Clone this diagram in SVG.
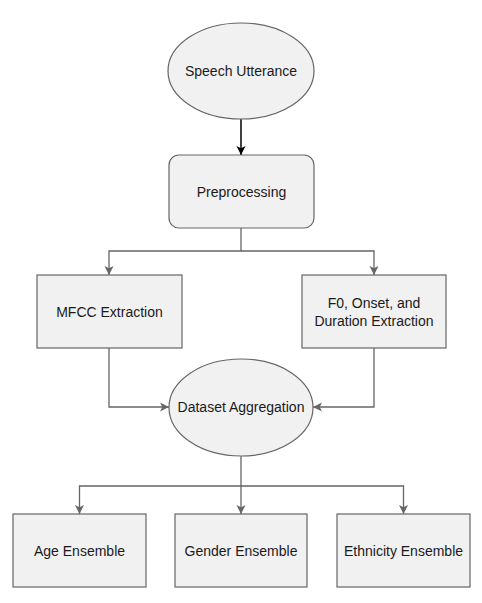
<svg xmlns="http://www.w3.org/2000/svg" width="482" height="603" viewBox="0 0 482 603">
<style>
.n{fill:#f1f1f1;stroke:#666666;stroke-width:1.2}
.t{font-family:"Liberation Sans",Arial,sans-serif;font-size:14px;fill:#1a1a1a;text-anchor:middle;dominant-baseline:central}
.c{fill:none;stroke:#666666;stroke-width:1.3}
.k{fill:none;stroke:#000000;stroke-width:1.5}
</style>
<defs>
<marker id="ag" markerWidth="10" markerHeight="10" viewBox="0 0 10 10" refX="9" refY="5" orient="auto" markerUnits="userSpaceOnUse">
<path d="M0,0.5 L9,5 L0,9.5 L2.3,5 Z" fill="#666666"/>
</marker>
<marker id="ak" markerWidth="10" markerHeight="10" viewBox="0 0 10 10" refX="9" refY="5" orient="auto" markerUnits="userSpaceOnUse">
<path d="M0,0.5 L9,5 L0,9.5 L2.3,5 Z" fill="#000000"/>
</marker>
</defs>
<rect width="482" height="603" fill="#ffffff"/>
<g id="connectors">
<path class="k" d="M241,119 V155" marker-end="url(#ak)"/>
<path class="c" d="M241,228 V251 H109 V275" marker-end="url(#ag)"/>
<path class="c" d="M241,251 H374 V275" marker-end="url(#ag)"/>
<path class="c" d="M109,348 V407 H169" marker-end="url(#ag)"/>
<path class="c" d="M374,348 V407 H313" marker-end="url(#ag)"/>
<path class="c" d="M241,456 V486 H79.5 V514" marker-end="url(#ag)"/>
<path class="c" d="M241,486 V514" marker-end="url(#ag)"/>
<path class="c" d="M241,486 H403.5 V514" marker-end="url(#ag)"/>
</g>
<g id="speech">
<ellipse class="n" cx="241" cy="71" rx="73" ry="48"/>
<text class="t" x="241" y="71">Speech Utterance</text>
</g>
<g id="preprocessing">
<rect class="n" x="169" y="155" width="145" height="73" rx="10"/>
<text class="t" x="241.5" y="191.5">Preprocessing</text>
</g>
<g id="mfcc">
<rect class="n" x="37" y="275" width="145" height="73"/>
<text class="t" x="109.5" y="311.5">MFCC Extraction</text>
</g>
<g id="f0">
<rect class="n" x="302" y="275" width="144" height="73"/>
<text class="t" x="374" y="302.5">F0, Onset, and</text>
<text class="t" x="374" y="320.5">Duration Extraction</text>
</g>
<g id="dataset">
<ellipse class="n" cx="241" cy="407.5" rx="72" ry="48.5"/>
<text class="t" x="241" y="407">Dataset Aggregation</text>
</g>
<g id="age">
<rect class="n" x="13" y="514" width="133" height="73"/>
<text class="t" x="79.5" y="551">Age Ensemble</text>
</g>
<g id="gender">
<rect class="n" x="175" y="514" width="132" height="73"/>
<text class="t" x="241" y="551">Gender Ensemble</text>
</g>
<g id="ethnicity">
<rect class="n" x="337" y="514" width="133" height="73"/>
<text class="t" x="403.5" y="551">Ethnicity Ensemble</text>
</g>
</svg>
